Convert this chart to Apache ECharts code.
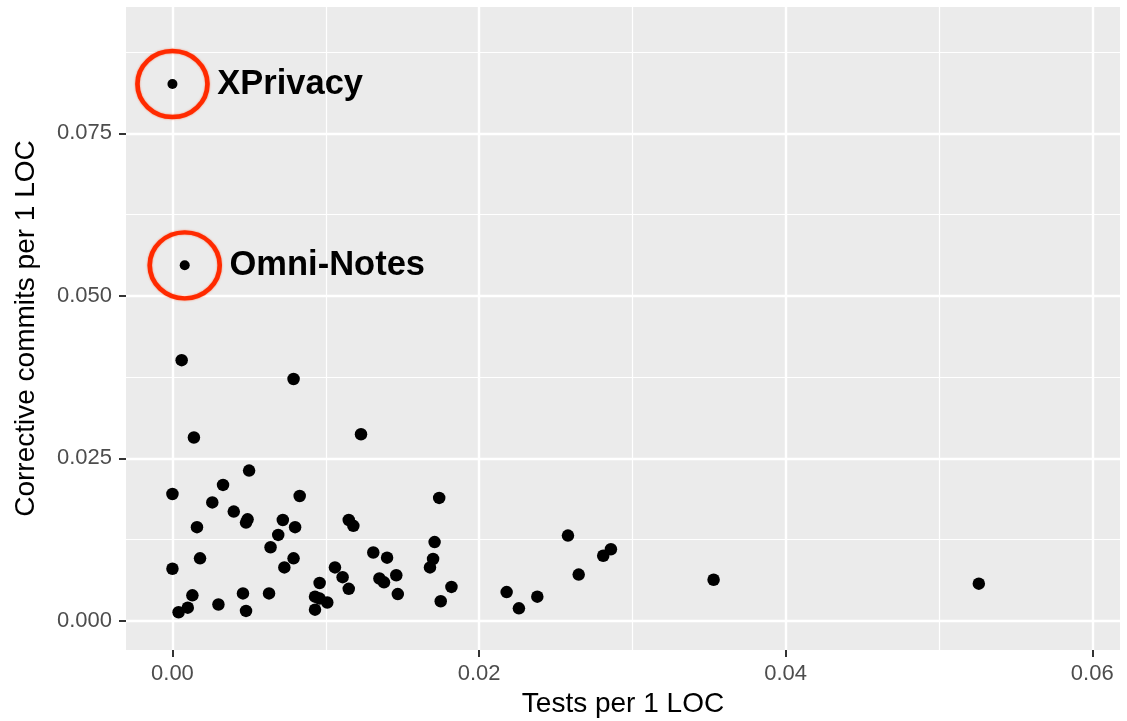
<!DOCTYPE html>
<html>
<head>
<meta charset="utf-8">
<script src="https://cdn.jsdelivr.net/npm/echarts@6/dist/echarts.min.js"></script>
<style>
html,body{margin:0;padding:0;background:#fff;}
#chart{width:1127px;height:721px;}
</style>
</head>
<body>
<div id="chart"></div>
<script>
// Tests per 1 LOC (x) and corrective commits per 1 LOC (y)
const testsPerLoc = [0.0006,0.0079,0.0014,0.0050,0.0033,0.0000,0.0083,0.0026,0.0040,0.0049,0.0048,0.0072,0.0016,0.0080,0.0069,0.0064,0.0018,0.0079,0.0073,0.0000,0.0013,0.0046,0.0063,0.0010,0.0004,0.0030,0.0048,
  0.0123,0.0174,0.0115,0.0118,0.0171,0.0131,0.0140,0.0170,0.0168,0.0106,0.0111,0.0135,0.0138,0.0146,0.0182,0.0115,0.0096,0.0093,0.0096,0.0101,0.0093,0.0147,0.0175,
  0.0258,0.0286,0.0281,0.0265,0.0218,0.0238,0.0226,0.0353,0.0526];
const correctivePerLoc = [0.0401,0.0372,0.0282,0.0231,0.0209,0.0195,0.0192,0.0182,0.0168,0.0156,0.0151,0.0155,0.0144,0.0144,0.0132,0.0113,0.0096,0.0096,0.0082,0.0080,0.0039,0.0042,0.0042,0.0020,0.0013,0.0025,0.0015,
  0.0287,0.0189,0.0155,0.0146,0.0121,0.0105,0.0097,0.0095,0.0082,0.0082,0.0067,0.0065,0.0059,0.0070,0.0052,0.0049,0.0058,0.0037,0.0034,0.0028,0.0017,0.0041,0.0030,
  0.0131,0.0110,0.0100,0.0071,0.0044,0.0037,0.0019,0.0063,0.0057];
const highlightNames = ['XPrivacy','Omni-Notes'];
const highlightTests = [0.0000,0.0008];
const highlightCorrective = [0.0826,0.0547];
const xTicks = [0,0.02,0.04,0.06];
const xMinorTicks = [0.01,0.03,0.05];
const yTicks = [0,0.025,0.05,0.075];
const yMinorTicks = [0.0125,0.0375,0.0625,0.0875];

const FONT = "'Liberation Sans', Arial, Helvetica, sans-serif";
const xMin = -0.00303, xMax = 0.06181;
const yMin = -0.00451, yMax = 0.09446;

const points = testsPerLoc.map((x,i)=>[x, correctivePerLoc[i]]);
const hiPoints = highlightTests.map((x,i)=>({value:[x, highlightCorrective[i]], name: highlightNames[i]}));

const chart = echarts.init(document.getElementById('chart'), null, {renderer:'canvas'});
chart.setOption({
  animation:false,
  backgroundColor:'#ffffff',
  grid:{left:126, right:7, top:7, bottom:71, show:true, backgroundColor:'#ebebeb', borderWidth:0,
        containLabel:false, outerBoundsMode:'none'},
  xAxis:[
    {type:'value', min:xMin, max:xMax, position:'bottom',
     name:'Tests per 1 LOC', nameLocation:'middle', nameGap:40,
     nameTextStyle:{fontFamily:FONT, fontSize:28, color:'#000'},
     axisLine:{show:false, onZero:false},
     axisTick:{show:true, customValues:xTicks, length:7, lineStyle:{color:'#333', width:2}},
     axisLabel:{show:true, customValues:xTicks, margin:13, fontFamily:FONT, fontSize:22, color:'#4d4d4d',
       formatter:v=>v.toFixed(2)},
     splitLine:{show:true, lineStyle:{color:'#ffffff', width:2.4}}},
    {type:'value', min:xMin, max:xMax, position:'bottom',
     axisLine:{show:false, onZero:false},
     axisTick:{show:false, customValues:xMinorTicks},
     axisLabel:{show:false, customValues:xMinorTicks},
     splitLine:{show:true, lineStyle:{color:'#ffffff', width:1.2}}}
  ],
  yAxis:[
    {type:'value', min:yMin, max:yMax, position:'left',
     name:'Corrective commits per 1 LOC', nameLocation:'middle', nameGap:86, nameRotate:90,
     nameTextStyle:{fontFamily:FONT, fontSize:28, color:'#000'},
     axisLine:{show:false, onZero:false},
     axisTick:{show:true, customValues:yTicks, length:7, lineStyle:{color:'#333', width:2}},
     axisLabel:{show:true, customValues:yTicks, margin:14, fontFamily:FONT, fontSize:22, color:'#4d4d4d',
       formatter:v=>v.toFixed(3)},
     splitLine:{show:true, lineStyle:{color:'#ffffff', width:2.4}}},
    {type:'value', min:yMin, max:yMax, position:'left',
     axisLine:{show:false, onZero:false},
     axisTick:{show:false, customValues:yMinorTicks},
     axisLabel:{show:false, customValues:yMinorTicks},
     splitLine:{show:true, lineStyle:{color:'#ffffff', width:1.2}}}
  ],
  series:[
    {type:'scatter', xAxisIndex:0, yAxisIndex:0, data:points, symbol:'circle', symbolSize:12.5,
     itemStyle:{color:'#000000', opacity:1}, silent:true, z:3},
    {type:'scatter', xAxisIndex:0, yAxisIndex:0, data:hiPoints, symbol:'circle', symbolSize:10,
     itemStyle:{color:'#000000', opacity:1}, silent:true, z:3},
    {type:'scatter', xAxisIndex:0, yAxisIndex:0, data:hiPoints, symbol:'circle', symbolSize:[70,66],
     itemStyle:{color:'rgba(0,0,0,0)', opacity:1, borderColor:'#ff2a00', borderWidth:4.5, shadowColor:'rgba(255,60,0,0.6)', shadowBlur:2},
     label:{show:true, position:'right', distance:7.5, formatter:p=>p.name,
       fontFamily:FONT, fontSize:34.5, fontWeight:'bold', color:'#000000', opacity:1},
     silent:true, z:4}
  ]
});
</script>
</body>
</html>
